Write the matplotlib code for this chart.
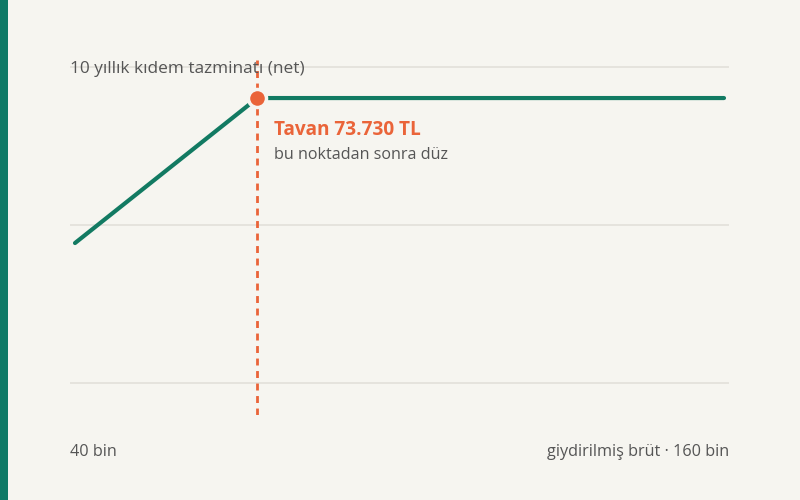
import matplotlib
matplotlib.use('Agg')
import matplotlib.pyplot as plt
from matplotlib.patches import Rectangle

# brut maas (bin TL) ve 10 yillik net kidem (bin TL)
gross = [40, 73.73, 160]
severance = [400, 737.3, 737.3]
cap_gross = 73.73
cap_value = 737.3
grid_values = [74.4, 441.9, 809.4]

BG = '#f6f5f0'
GREEN = '#127a62'
ORANGE = '#ea6439'
TEXT = '#555555'
GRID = '#e4e2dc'

plt.rcParams['font.family'] = ['Open Sans', 'DejaVu Sans']

fig = plt.figure(figsize=(8, 5), dpi=100, facecolor=BG)
fig.patches.append(Rectangle((0, 0), 8 / 800, 1, transform=fig.transFigure,
                             facecolor='#0f7a66', edgecolor='none'))

ax = fig.add_axes([70 / 800, 85 / 500, 659 / 800, 355 / 500], facecolor=BG)
px = 120 / 649
ax.set_xlim(40 - 5 * px, 160 + 5 * px)
ax.set_ylim(0, 825.8)
for s in ax.spines.values():
    s.set_visible(False)
ax.set_xticks([])
ax.set_yticks([])

for g in grid_values:
    ax.axhline(g, color=GRID, lw=1.3, zorder=1)

ax.axvline(cap_gross, color=ORANGE, lw=2, ls=(0, (2.5, 2)), zorder=2)
ax.plot(gross, severance, color=GREEN, lw=3, solid_capstyle='round', zorder=3)
ax.plot([cap_gross], [cap_value], 'o', ms=13, color=ORANGE,
        markeredgecolor=BG, markeredgewidth=2.5, zorder=4)

ax.text(cap_gross + 3.1, 663, 'Tavan 73.730 TL', color=ORANGE, fontsize=13.7,
        fontweight='bold', va='center', ha='left')
ax.text(cap_gross + 3.1, 605, 'bu noktadan sonra düz', color=TEXT, fontsize=11.6,
        va='center', ha='left')

fig.text(70 / 800, 1 - 69 / 500, '10 yıllık kıdem tazminatı (net)', color=TEXT,
         fontsize=12.4, va='center', ha='left')
fig.text(70 / 800, 1 - 452 / 500, '40 bin', color=TEXT, fontsize=11.7,
         va='center', ha='left')
fig.text(729 / 800, 1 - 452 / 500, 'giydirilmiş brüt · 160 bin', color=TEXT,
         fontsize=11.7, va='center', ha='right')

fig.savefig('out.png', dpi=100, facecolor=BG)
